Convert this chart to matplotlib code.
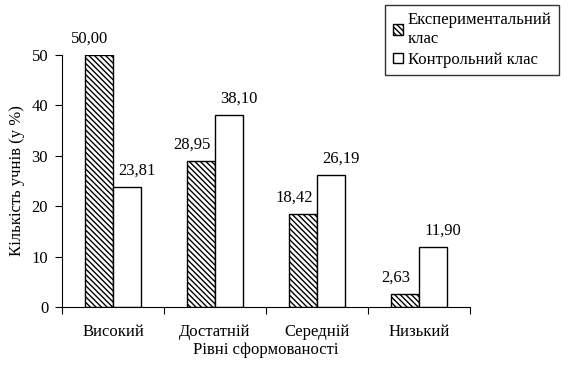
import numpy as np
import matplotlib
matplotlib.use("Agg")
import matplotlib.pyplot as plt

# data
categories = ["Високий", "Достатній", "Середній", "Низький"]
experimental = [50.00, 28.95, 18.42, 2.63]
control = [23.81, 38.10, 26.19, 11.90]
series_names = ["Експериментальний\nклас", "Контрольний клас"]
y_ticks = [0, 10, 20, 30, 40, 50]

plt.rcParams["font.family"] = ["Liberation Serif", "DejaVu Serif"]
plt.rcParams["font.size"] = 12
plt.rcParams["hatch.linewidth"] = 1.0

fig = plt.figure(figsize=(5.69, 3.72), dpi=100)
ax = fig.add_axes([0.109, 0.175, 0.717, 0.677])

x = np.arange(len(categories))
w = 0.275
b1 = ax.bar(x - w / 2, experimental, w, color="white", edgecolor="black",
            hatch="\\" * 6, linewidth=1, label=series_names[0])
b2 = ax.bar(x + w / 2, control, w, color="white", edgecolor="black",
            linewidth=1, label=series_names[1])

# labels sit a little off-centre, as in the original
for bars, vals, dx in ((b1, experimental, -6.5), (b2, control, 7)):
    for r, v in zip(bars, vals):
        ax.annotate(("%.2f" % v).replace(".", ","),
                    (r.get_x() + r.get_width() / 2, r.get_height()),
                    xytext=(dx, 6), textcoords="offset points",
                    ha="center", va="bottom")

ax.set_xlim(-0.5, len(categories) - 0.5)
ax.set_ylim(0, 50)
ax.set_yticks(y_ticks)
ax.set_xticks(np.arange(len(categories) + 1) - 0.5)
ax.set_xticklabels([])
ax.set_xticks(x, minor=True)
ax.set_xticklabels(categories, minor=True)
ax.tick_params(axis="x", which="minor", length=0, pad=12)
ax.tick_params(axis="x", which="major", length=5, direction="out")
ax.tick_params(axis="y", length=5, direction="out", pad=5)
for s in ("top", "right"):
    ax.spines[s].set_visible(False)
ax.set_xlabel("Рівні сформованості", labelpad=2)
ax.set_ylabel("Кількість учнів (у %)", labelpad=5)

leg = fig.legend(loc="upper right", bbox_to_anchor=(0.983, 0.987),
                 borderaxespad=0, frameon=True, fancybox=False,
                 edgecolor="black", handlelength=0.6, handleheight=0.6,
                 handletextpad=0.3, borderpad=0.45, labelspacing=0.3)
leg.get_frame().set_linewidth(1)

fig.savefig("out.png", dpi=100)
